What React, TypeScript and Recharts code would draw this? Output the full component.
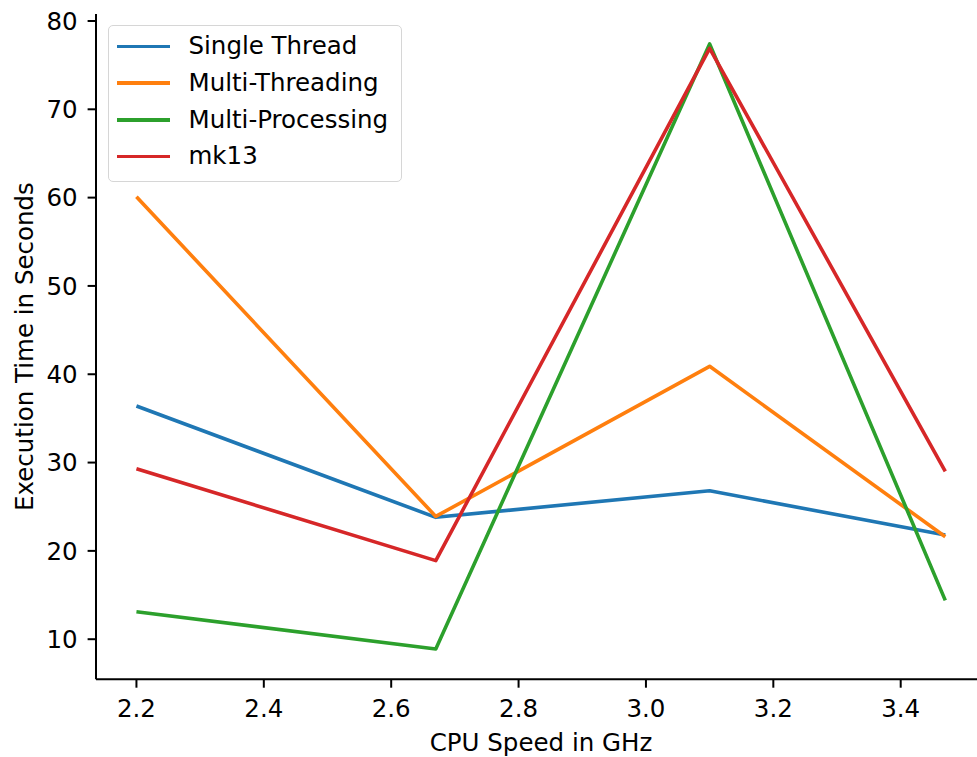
import React from 'react';
import { LineChart, Line, XAxis, YAxis } from 'recharts';

const cpuSpeed = [2.2, 2.67, 3.1, 3.47];
const singleThread = [36.4, 23.8, 26.8, 21.8];
const multiThreading = [60.1, 23.9, 40.9, 21.6];
const multiProcessing = [13.1, 8.9, 77.4, 14.4];
const mk13 = [29.3, 18.9, 76.9, 29.0];

const xTicks = [2.2, 2.4, 2.6, 2.8, 3.0, 3.2, 3.4];
const yTicks = [10, 20, 30, 40, 50, 60, 70, 80];

const seriesNames = ['Single Thread', 'Multi-Threading', 'Multi-Processing', 'mk13'];
const seriesColors = ['#1f77b4', '#ff7f0e', '#2ca02c', '#d62728'];
const seriesKeys = ['single', 'threading', 'processing', 'mk13'];

const data = cpuSpeed.map((x, i) => ({
  x,
  single: singleThread[i],
  threading: multiThreading[i],
  processing: multiProcessing[i],
  mk13: mk13[i],
}));

const FONT = '"DejaVu Sans", sans-serif';
const FS = 24.5;
const tickStyle = { fill: '#000', fontSize: FS, fontFamily: FONT };
// matplotlib-style 5% padding around the data range
const X_DOMAIN = [2.1365, 3.5198];
const Y_DOMAIN = [5.46, 80.79];

const ChartLegend = () => (
  <div
    style={{
      position: 'absolute',
      left: 108,
      top: 25,
      width: 294,
      height: 157,
      boxSizing: 'border-box',
      border: '1.8px solid #d6d6d6',
      borderRadius: 5,
      background: 'rgba(255,255,255,0.8)',
      paddingTop: 2,
      fontFamily: FONT,
      fontSize: FS,
      color: '#000',
    }}
  >
    {seriesNames.map((name, i) => (
      <div key={name} style={{ height: 36.7, display: 'flex', alignItems: 'center' }}>
        <div style={{ marginLeft: 7.5, width: 53, height: 3.6, background: seriesColors[i] }} />
        <span style={{ marginLeft: 19, lineHeight: '36px' }}>{name}</span>
      </div>
    ))}
  </div>
);

export default function App() {
  return (
    <div style={{ position: 'absolute', left: 0, top: 0, width: 977, height: 757, background: '#fff', overflow: 'hidden' }}>
      <LineChart width={977} height={757} data={data} margin={{ top: 14, right: 0, left: 0, bottom: 0 }}>
        <XAxis
          dataKey="x"
          type="number"
          domain={X_DOMAIN}
          allowDataOverflow
          ticks={xTicks}
          tickFormatter={(v: number) => v.toFixed(1)}
          height={77.7}
          tick={tickStyle}
          tickSize={8.4}
          tickMargin={12}
          axisLine={{ stroke: '#000', strokeWidth: 2 }}
          tickLine={{ stroke: '#000', strokeWidth: 2 }}
          label={{
            content: () => (
              <text x={541} y={751} textAnchor="middle" fontSize={FS} fontFamily={FONT} fill="#000">
                CPU Speed in GHz
              </text>
            ),
          }}
        />
        <XAxis
          xAxisId="top"
          dataKey="x"
          type="number"
          orientation="top"
          domain={X_DOMAIN}
          height={0}
          tick={false}
          tickLine={false}
          axisLine={{ stroke: '#000', strokeWidth: 2 }}
        />
        <YAxis
          type="number"
          domain={Y_DOMAIN}
          allowDataOverflow
          ticks={yTicks}
          width={96}
          tick={tickStyle}
          tickSize={8.4}
          tickMargin={10}
          axisLine={{ stroke: '#000', strokeWidth: 2 }}
          tickLine={{ stroke: '#000', strokeWidth: 2 }}
          label={{
            content: () => (
              <text
                x={33}
                y={346.6}
                transform="rotate(-90, 33, 346.6)"
                textAnchor="middle"
                fontSize={FS}
                fontFamily={FONT}
                fill="#000"
              >
                Execution Time in Seconds
              </text>
            ),
          }}
        />
        {seriesKeys.map((key, i) => (
          <Line
            key={key}
            type="linear"
            dataKey={key}
            name={seriesNames[i]}
            stroke={seriesColors[i]}
            strokeWidth={3.6}
            strokeLinejoin="round"
            dot={false}
            activeDot={false}
            isAnimationActive={false}
          />
        ))}
      </LineChart>
      <ChartLegend />
    </div>
  );
}
